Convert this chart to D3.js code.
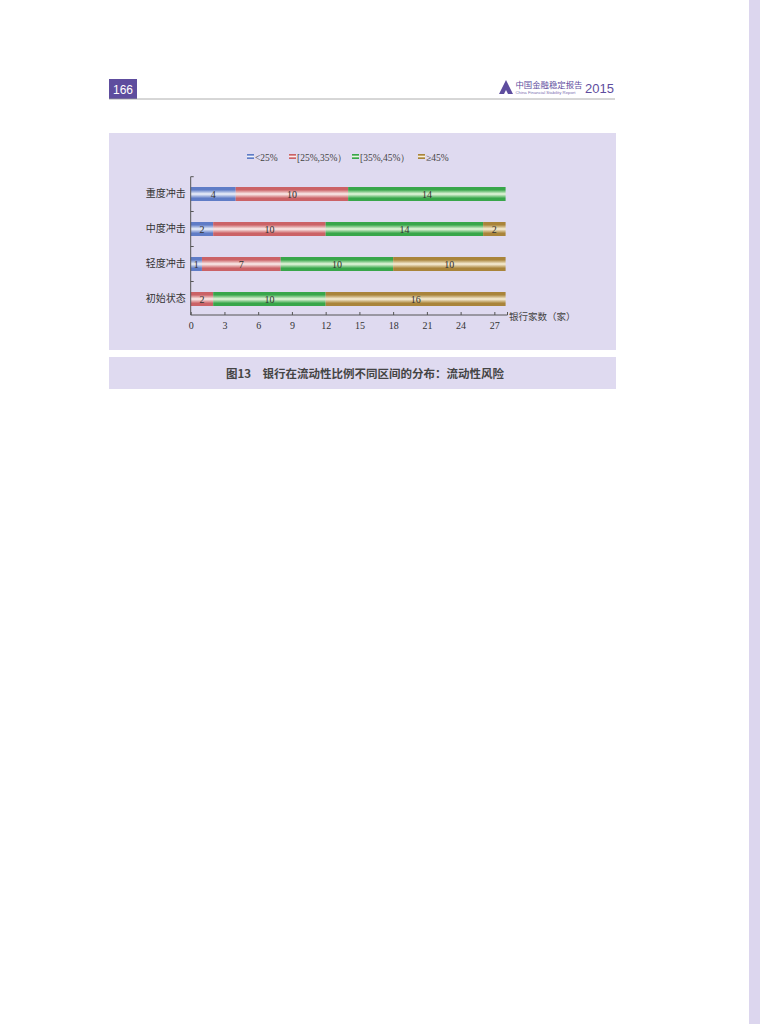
<!DOCTYPE html>
<html>
<head>
<meta charset="utf-8">
<script src="https://cdn.jsdelivr.net/npm/d3@7"></script>
<style>
  html, body { margin: 0; padding: 0; background: #fff; }
  #page { width: 760px; height: 1024px; }
</style>
</head>
<body>
<div id="page"></div>
<script>
// chart data
const categories = ["重度冲击", "中度冲击", "轻度冲击", "初始状态"];
const seriesNames = ["<25%", "[25%,35%）", "[35%,45%）", "≥45%"];
const below25 = [4, 2, 1, 0];
const from25to35 = [10, 10, 7, 2];
const from35to45 = [14, 14, 10, 10];
const above45 = [0, 2, 10, 16];
const xTicks = [0, 3, 6, 9, 12, 15, 18, 21, 24, 27];

document.addEventListener("DOMContentLoaded", function () {
  const W = 760, H = 1024;
  const svg = d3.select("#page").append("svg")
    .attr("width", W)
    .attr("height", H);

  const serif = "'Liberation Serif', 'Times New Roman', serif";
  const cjk = "'Noto Sans CJK SC', sans-serif";

  // right page edge strip
  svg.append("rect").attr("x", 749).attr("y", 0).attr("width", 11).attr("height", H).attr("fill", "#dcd6ee");

  // page header
  svg.append("rect").attr("x", 109).attr("y", 79).attr("width", 28).attr("height", 20).attr("fill", "#5e4d9e");
  svg.append("text").attr("x", 123).attr("y", 93.5).attr("text-anchor", "middle")
    .attr("font-family", "Arial, 'Liberation Sans', sans-serif").attr("font-size", 12)
    .attr("fill", "#fff").text("166");
  svg.append("line").attr("x1", 109).attr("x2", 615).attr("y1", 99).attr("y2", 99)
    .attr("stroke", "#9a9a9a").attr("stroke-width", 0.8);

  // logo
  const logo = svg.append("g").attr("transform", "translate(499,80)");
  logo.append("path").attr("d", "M7,0 L14,14 L9,14 L7,10 L5,14 L0,14 Z").attr("fill", "#5e4d9e");
  logo.append("text").attr("x", 16.5).attr("y", 7.5).attr("font-family", cjk).attr("font-size", 8.4)
    .attr("fill", "#5e4d9e").text("中国金融稳定报告");
  logo.append("text").attr("x", 16.5).attr("y", 14).attr("font-family", "Arial, sans-serif").attr("font-size", 4.3)
    .attr("fill", "#7a6fb0").text("China Financial Stability Report");
  logo.append("text").attr("x", 86).attr("y", 13).attr("font-family", "Arial, 'Liberation Sans', sans-serif")
    .attr("font-size", 13).attr("fill", "#5e4d9e").text("2015");

  // chart panel
  svg.append("rect").attr("x", 109).attr("y", 133).attr("width", 507).attr("height", 217).attr("fill", "#dfdaf0");
  // caption panel
  svg.append("rect").attr("x", 109).attr("y", 357).attr("width", 507).attr("height", 32).attr("fill", "#dfdaf0");
  svg.append("text").attr("x", 365).attr("y", 377.5).attr("text-anchor", "middle")
    .attr("font-family", cjk).attr("font-weight", "bold").attr("font-size", 11.5)
    .attr("fill", "#454545").text("图13　银行在流动性比例不同区间的分布：流动性风险");

  // scales
  const x = d3.scaleLinear().domain([0, 28]).range([190.7, 505.6]);
  const y = d3.scaleBand().domain(categories).range([176.5, 316.5]).padding(0.6).paddingOuter(0.3);

  const colors = [
    { base: "#5f7cc6", light: "#eef2fb" },
    { base: "#cb6266", light: "#fbeeec" },
    { base: "#38a64a", light: "#e8f7de" },
    { base: "#a9843a", light: "#f9f0d8" }
  ];

  const defs = svg.append("defs");
  colors.forEach((c, i) => {
    const g = defs.append("linearGradient").attr("id", "grad" + i)
      .attr("x1", 0).attr("y1", 0).attr("x2", 0).attr("y2", 1);
    g.append("stop").attr("offset", "0%").attr("stop-color", c.base);
    g.append("stop").attr("offset", "20%").attr("stop-color", c.base);
    g.append("stop").attr("offset", "50%").attr("stop-color", c.light);
    g.append("stop").attr("offset", "80%").attr("stop-color", c.base);
    g.append("stop").attr("offset", "100%").attr("stop-color", c.base);
  });

  const series = [below25, from25to35, from35to45, above45];
  const table = categories.map((cat, i) => {
    const row = { cat: cat };
    series.forEach((s, k) => { row["s" + k] = s[i]; });
    return row;
  });
  const stacked = d3.stack().keys(series.map((_, k) => "s" + k))(table);

  const barH = 14;
  stacked.forEach((layer, k) => {
    const g = svg.append("g");
    layer.forEach(d => {
      const v = d[1] - d[0];
      if (v <= 0) return;
      const cy = y(d.data.cat) + y.bandwidth() / 2;
      g.append("rect")
        .attr("x", x(d[0]))
        .attr("y", cy - barH / 2)
        .attr("width", x(d[1]) - x(d[0]))
        .attr("height", barH)
        .attr("fill", `url(#grad${k})`);
      g.append("text")
        .attr("x", (x(d[0]) + x(d[1])) / 2)
        .attr("y", cy + 3.5)
        .attr("text-anchor", "middle")
        .attr("font-family", serif)
        .attr("font-size", 10)
        .attr("fill", "#333")
        .text(v);
    });
  });

  // x axis
  const xAxis = svg.append("g").attr("transform", "translate(0,315)")
    .call(d3.axisBottom(x).tickValues(xTicks).tickSize(-3).tickPadding(7));
  xAxis.select(".domain").attr("d", `M${x(0)},0H507.5`).attr("stroke", "#555");
  xAxis.selectAll(".tick line").attr("stroke", "#555");
  xAxis.selectAll(".tick text").attr("font-family", serif).attr("font-size", 10).attr("fill", "#333");
  svg.append("line").attr("x1", 507.5).attr("x2", 507.5).attr("y1", 312).attr("y2", 315).attr("stroke", "#555");

  svg.append("text").attr("x", 509).attr("y", 320)
    .attr("font-family", cjk).attr("font-size", 9.5).attr("fill", "#444").text("银行家数（家）");

  // y axis
  const yAxis = svg.append("g").attr("transform", `translate(${x(0)},0)`)
    .call(d3.axisLeft(y).tickSize(0).tickPadding(5));
  yAxis.select(".domain").attr("d", "M0,176.7V315").attr("stroke", "#555");
  yAxis.selectAll(".tick text").attr("font-family", cjk).attr("font-size", 10).attr("fill", "#333");
  // separator ticks between categories
  categories.forEach((cat, i) => {
    const ty = i === 0 ? 176.7 : (y(categories[i - 1]) + y.bandwidth() + y(cat)) / 2;
    svg.append("line").attr("x1", x(0)).attr("x2", x(0) + 3)
      .attr("y1", ty).attr("y2", ty)
      .attr("stroke", "#555");
  });

  // legend
  const legendX = [247, 289, 352, 418];
  seriesNames.forEach((name, k) => {
    const g = svg.append("g").attr("transform", `translate(${legendX[k]},158)`);
    g.append("rect").attr("x", 0).attr("y", -4).attr("width", 7).attr("height", 5)
      .attr("fill", `url(#grad${k})`);
    g.append("text").attr("x", 8).attr("y", 2.5).attr("font-family", serif)
      .attr("font-size", 9.5).attr("fill", "#444").text(name);
  });
});
</script>
</body>
</html>
